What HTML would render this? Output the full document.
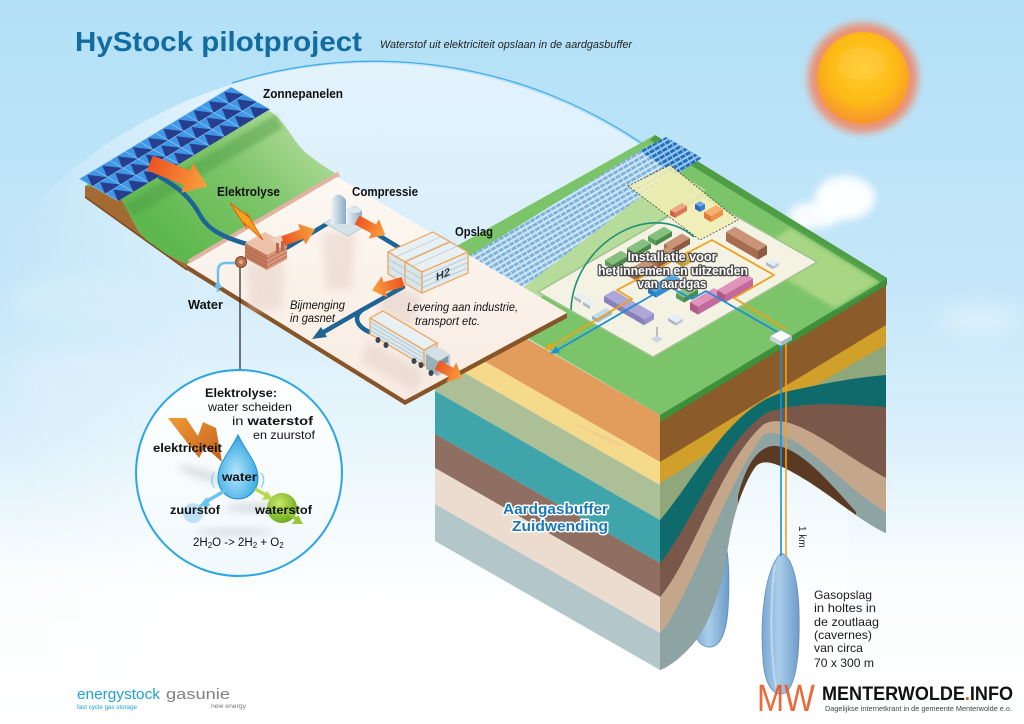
<!DOCTYPE html>
<html><head><meta charset="utf-8"><style>
html,body{margin:0;padding:0;background:#fff;width:1024px;height:724px;overflow:hidden;}
svg{display:block;}
text{font-family:"Liberation Sans",sans-serif;}
</style></head><body>
<svg width="1024" height="724" viewBox="0 0 1024 724" xmlns="http://www.w3.org/2000/svg">
<defs>
 <linearGradient id="sky" x1="0" y1="0" x2="0" y2="724" gradientUnits="userSpaceOnUse">
  <stop offset="0" stop-color="#b2e0f7"/>
  <stop offset="0.4" stop-color="#c5e7f9"/>
  <stop offset="0.62" stop-color="#dcf0fb"/>
  <stop offset="0.79" stop-color="#fafdfe"/>
  <stop offset="1" stop-color="#ffffff"/>
 </linearGradient>
 <linearGradient id="bub" x1="0" y1="61" x2="0" y2="600" gradientUnits="userSpaceOnUse">
  <stop offset="0" stop-color="#e3f3fc"/>
  <stop offset="0.45" stop-color="#d7eefa"/>
  <stop offset="0.75" stop-color="#ecf7fc"/>
  <stop offset="1" stop-color="#ffffff"/>
 </linearGradient>
 <linearGradient id="bubMaskG" x1="0" y1="0" x2="200" y2="0" gradientUnits="userSpaceOnUse">
  <stop offset="0" stop-color="#000"/>
  <stop offset="1" stop-color="#fff"/>
 </linearGradient>
 <mask id="bubMask" maskUnits="userSpaceOnUse" x="0" y="0" width="1024" height="724">
  <rect x="0" y="0" width="1024" height="724" fill="url(#bubMaskG)"/>
 </mask>
 <radialGradient id="sunG" cx="0.5" cy="0.4" r="0.6">
  <stop offset="0" stop-color="#ffcd2e"/>
  <stop offset="0.6" stop-color="#fdbb16"/>
  <stop offset="1" stop-color="#f7952e"/>
 </radialGradient>
 <filter id="b2" x="-50%" y="-50%" width="200%" height="200%"><feGaussianBlur stdDeviation="2"/></filter>
 <filter id="b4" x="-50%" y="-50%" width="200%" height="200%"><feGaussianBlur stdDeviation="4"/></filter>
 <filter id="b8" x="-50%" y="-50%" width="200%" height="200%"><feGaussianBlur stdDeviation="8"/></filter>
 <linearGradient id="hill" x1="170" y1="240" x2="285" y2="120" gradientUnits="userSpaceOnUse">
  <stop offset="0" stop-color="#5fb84f"/>
  <stop offset="0.55" stop-color="#7cc568"/>
  <stop offset="1" stop-color="#a9d892"/>
 </linearGradient>
 <linearGradient id="plateG" x1="0" y1="177" x2="0" y2="400" gradientUnits="userSpaceOnUse">
  <stop offset="0" stop-color="#fdf8f2"/>
  <stop offset="1" stop-color="#f8ebe1"/>
 </linearGradient>
 <linearGradient id="og" x1="0" y1="0" x2="1" y2="0">
  <stop offset="0" stop-color="#ec5424"/>
  <stop offset="1" stop-color="#f9a23c"/>
 </linearGradient>
 <linearGradient id="boltG" x1="0" y1="0" x2="1" y2="1">
  <stop offset="0" stop-color="#f29a36"/>
  <stop offset="1" stop-color="#c0601e"/>
 </linearGradient>
 <radialGradient id="dropG" cx="0.45" cy="0.6" r="0.6">
  <stop offset="0" stop-color="#b8e6fb"/>
  <stop offset="1" stop-color="#2ea6e2"/>
 </radialGradient>
 <radialGradient id="ballG" cx="0.4" cy="0.35" r="0.65">
  <stop offset="0" stop-color="#c8e86a"/>
  <stop offset="1" stop-color="#6fac1e"/>
 </radialGradient>
 <linearGradient id="circG" x1="0" y1="370" x2="0" y2="577" gradientUnits="userSpaceOnUse">
  <stop offset="0" stop-color="#ffffff"/>
  <stop offset="1" stop-color="#f1f9fd"/>
 </linearGradient>
 <linearGradient id="cavG" x1="0" y1="0" x2="1" y2="0">
  <stop offset="0" stop-color="#7aa8d2"/>
  <stop offset="0.45" stop-color="#a9cdea"/>
  <stop offset="1" stop-color="#6e9cc8"/>
 </linearGradient>
 <linearGradient id="cylG" x1="0" y1="0" x2="1" y2="0">
  <stop offset="0" stop-color="#eef4f8"/>
  <stop offset="1" stop-color="#8eacc2"/>
 </linearGradient>
 <pattern id="pan" patternUnits="userSpaceOnUse" width="1" height="1">
  <rect width="1" height="1" fill="#3f98e6"/>
  <path d="M0,1 L0.5,0.05 L1,1 Z" fill="#273d8e"/>
  <path d="M0,0 H1 M0,0 V1" stroke="#a6d6f7" stroke-width="0.07"/>
 </pattern>
 <pattern id="sf" patternUnits="userSpaceOnUse" width="6" height="5" patternTransform="rotate(-30)">
  <rect width="6" height="5" fill="#d3e8f4"/>
  <rect x="0.5" y="0.5" width="5" height="3" fill="#7db3df"/>
 </pattern>
 <pattern id="sfd" patternUnits="userSpaceOnUse" width="6" height="5" patternTransform="rotate(-30)">
  <rect width="6" height="5" fill="#9cc8ea"/>
  <rect x="0.5" y="0.5" width="5" height="3" fill="#1f6fc2"/>
 </pattern>
 <clipPath id="rf"><path d="M660,415 L886,280 L886,533 C862,522 832,496 806,480 C786,468 766,456 756,466 C744,482 734,512 729,540 C723,580 713,620 692,645 C682,656 672,665 660,670 Z"/></clipPath>
</defs>

<!-- background -->
<rect width="1024" height="724" fill="url(#sky)"/>
<g filter="url(#b8)" opacity="0.8">
 <ellipse cx="95" cy="300" rx="85" ry="22" fill="#d6eefb"/>
 <ellipse cx="80" cy="380" rx="70" ry="30" fill="#d9effb"/>
 <ellipse cx="980" cy="320" rx="40" ry="16" fill="#ddf1fb"/>
</g>
<!-- bubble -->
<path d="M0,243 A476,476 0 0 1 813,720 L813,724 L0,724 Z" fill="url(#bub)" mask="url(#bubMask)"/>
<path d="M232,83 A476,476 0 0 1 647,147" fill="none" stroke="#46ace6" stroke-width="1.3"/>

<!-- sun -->
<circle cx="863" cy="78" r="55" fill="#f4845e" filter="url(#b4)" opacity="0.85"/>
<circle cx="863" cy="78" r="46" fill="url(#sunG)"/>
<ellipse cx="862" cy="64" rx="24" ry="16" fill="#ffe08a" opacity="0.15"/>

<!-- cloud behind block -->
<g filter="url(#b4)">
 <ellipse cx="845" cy="198" rx="30" ry="22" fill="#ffffff" opacity="0.95"/>
 <ellipse cx="815" cy="215" rx="26" ry="13" fill="#ffffff" opacity="0.9"/>
 <ellipse cx="790" cy="232" rx="18" ry="10" fill="#ffffff" opacity="0.8"/>
</g>

<!-- ===== right block: left face ===== -->
<polygon points="435,286 660,415 660,462 435,333" fill="#e29c5c"/>
<polygon points="435,333 660,462 660,485 435,356" fill="#f5da8c"/>
<polygon points="435,356 660,485 660,520 435,391" fill="#adbf97"/>
<polygon points="435,391 660,520 660,563 435,434" fill="#3fa5ab"/>
<polygon points="435,434 660,563 660,597 435,468" fill="#8f6f61"/>
<polygon points="435,468 660,597 660,633 435,504" fill="#ebdccf"/>
<polygon points="435,504 660,633 660,670 435,541" fill="#b3c7cb"/>
<polygon points="560,416 628,446 615,446" fill="#f3cf8e" opacity="0.7"/>

<!-- caverns -->
<path d="M722,530 C729,545 730,580 728,610 C726,636 719,648 708,647 C696,645 690,630 692,605 C695,570 710,540 722,530 Z" fill="url(#cavG)" stroke="#5e8ebc" stroke-width="0.8"/>

<!-- right face -->
<g clip-path="url(#rf)">
 <rect x="650" y="270" width="240" height="420" fill="#8b5b29"/>
 <path d="M660,462 L886,325 L886,690 L660,690 Z" fill="#d1a02a"/>
 <path d="M660,483 C720,447 800,392 886,345 L886,690 L660,690 Z" fill="#8fa77a"/>
 <path d="M660,520 C695,480 730,405 785,392 C830,382 860,377 886,375 L886,690 L660,690 Z" fill="#0e6a6b"/>
 <path d="M660,563 C690,528 722,440 768,412 C805,400 850,405 886,407 L886,690 L660,690 Z" fill="#7a5849"/>
 <path d="M660,597 C692,560 722,460 764,424 C792,410 835,450 886,478 L886,690 L660,690 Z" fill="#c4a78b"/>
 <path d="M660,633 C690,600 722,490 764,434 C795,425 840,485 886,512 L886,690 L660,690 Z" fill="#8ea4a2"/>
 <path d="M738,496 C746,464 758,448 772,446 C796,444 826,478 856,512 L856,560 L738,560 Z" fill="#5a3a22"/>
</g>
<path d="M781,553 C792,556 798,580 799,610 C800,650 797,685 785,693 C775,697 765,688 763,660 C760,620 764,570 781,553 Z" fill="url(#cavG)" stroke="#5e8ebc" stroke-width="0.8"/>
<path d="M775,565 C770,600 770,650 776,688" stroke="#c6def2" stroke-width="2" fill="none" opacity="0.8"/>

<!-- block top -->
<polygon points="412,271 655,135 887,278 660,415" fill="#7cc46a"/>
<polygon points="660,415 887,278 887,285 660,422" fill="#3f8f3a"/>
<polygon points="655,135 887,278 880,282 650,140" fill="#4f9e46"/>
<polygon points="790,228 878,282 835,308 750,258" fill="#a9d683" filter="url(#b2)"/>
<polygon points="505,286 670,168 706,190 540,298" fill="#b6db9a"/>
<!-- solar field -->
<polygon points="460,262 648,146 680,166 520,290" fill="url(#sf)"/>
<polygon points="640,151 666,137 702,158 676,175" fill="url(#sfd)"/>
<!-- installation plate -->
<polygon points="538,292 702,197 817,262 653,357" fill="#f4f2e3" stroke="#9fc28f" stroke-width="1.5"/>
<!-- dashed area -->
<polygon points="628,186 670,165 738,220 700,240" fill="#f1efb4" opacity="0.88" stroke="#333" stroke-width="0.8" stroke-dasharray="2,1.5"/>
<!-- buildings in dashed area -->
<g>
 <polygon points="670,210 675,212.9 687,205.9 682,203" fill="#f0a888"/><polygon points="670,210 675,212.9 675,217.9 670,215" fill="#c86848"/><polygon points="675,212.9 687,205.9 687,210.9 675,217.9" fill="#d87858"/>
 <polygon points="695,204 700,206.9 705,204 700,201.1" fill="#6aa8e8"/><polygon points="695,204 700,206.9 700,211.9 695,209" fill="#2a68b8"/><polygon points="700,206.9 705,204 705,209 700,211.9" fill="#3a7ccc"/>
 <polygon points="704,212 711,216.1 723,209.1 716,205" fill="#f8b070"/><polygon points="704,212 711,216.1 711,222.1 704,218" fill="#e07a3a"/><polygon points="711,216.1 723,209.1 723,215.1 711,222.1" fill="#ec9050"/>
</g>
<!-- buildings -->
<g>
 <polygon points="726,232 758,250.6 767,245.4 735,226.8" fill="#c99478"/><polygon points="726,232 758,250.6 758,259.6 726,241" fill="#a86c50"/><polygon points="758,250.6 767,245.4 767,254.4 758,259.6" fill="#8e5a40"/>
 <polygon points="648,236 656,240.6 672,231.4 664,226.7" fill="#86bf80"/><polygon points="648,236 656,240.6 656,245.6 648,241" fill="#5a9a5a"/><polygon points="656,240.6 672,231.4 672,236.4 656,245.6" fill="#4a884c"/>
 <polygon points="627,248 635,252.6 651,243.4 643,238.7" fill="#86bf80"/><polygon points="627,248 635,252.6 635,257.6 627,253" fill="#5a9a5a"/><polygon points="635,252.6 651,243.4 651,248.4 635,257.6" fill="#4a884c"/>
 <polygon points="605,260 613,264.6 629,255.4 621,250.7" fill="#86bf80"/><polygon points="605,260 613,264.6 613,269.6 605,265" fill="#5a9a5a"/><polygon points="613,264.6 629,255.4 629,260.4 613,269.6" fill="#4a884c"/>
 <polygon points="664,244 672,248.6 690,238.2 682,233.6" fill="#c99478"/><polygon points="664,244 672,248.6 672,254.6 664,250" fill="#a86c50"/><polygon points="672,248.6 690,238.2 690,244.2 672,254.6" fill="#8e5a40"/>
 <polygon points="650,257 658,261.6 676,251.2 668,246.6" fill="#c99478"/><polygon points="650,257 658,261.6 658,267.6 650,263" fill="#a86c50"/><polygon points="658,261.6 676,251.2 676,257.2 658,267.6" fill="#8e5a40"/>
 <polygon points="628,270 636,274.6 654,264.2 646,259.6" fill="#c99478"/><polygon points="628,270 636,274.6 636,280.6 628,276" fill="#a86c50"/><polygon points="636,274.6 654,264.2 654,270.2 636,280.6" fill="#8e5a40"/>
 <polygon points="676,258 683,262.1 695,255.1 688,251" fill="#e0c060"/><polygon points="676,258 683,262.1 683,267.1 676,263" fill="#b8963a"/><polygon points="683,262.1 695,255.1 695,260.1 683,267.1" fill="#c8a444"/>
 <polygon points="648,288 656,292.6 680,278.7 672,274.1" fill="#5aa8e4"/><polygon points="648,288 656,292.6 656,297.6 648,293" fill="#2a78b8"/><polygon points="656,292.6 680,278.7 680,283.7 656,297.6" fill="#3a8ccc"/>
 <polygon points="676,293 684,297.6 698,289.5 690,284.9" fill="#86bf80"/><polygon points="676,293 684,297.6 684,302.6 676,298" fill="#5a9a5a"/><polygon points="684,297.6 698,289.5 698,294.5 684,302.6" fill="#4a884c"/>
 <polygon points="604,296 644,319.2 654,313.4 614,290.2" fill="#aea6d6"/><polygon points="604,296 644,319.2 644,325.2 604,302" fill="#8880b8"/><polygon points="644,319.2 654,313.4 654,319.4 644,325.2" fill="#9890c8"/>
 <polygon points="690,302 698,306.6 722,292.7 714,288.1" fill="#e094bc"/><polygon points="690,302 698,306.6 698,314.6 690,310" fill="#b05888"/><polygon points="698,306.6 722,292.7 722,300.7 698,314.6" fill="#c26a9a"/>
 <polygon points="717,290 725,294.6 753,278.4 745,273.8" fill="#e094bc"/><polygon points="717,290 725,294.6 725,302.6 717,298" fill="#b05888"/><polygon points="725,294.6 753,278.4 753,286.4 725,302.6" fill="#c26a9a"/>
 <polygon points="766,262 773,266.1 779,262.6 772,258.5" fill="#e8eef4"/><polygon points="766,262 773,266.1 773,269.1 766,265" fill="#a8b8c8"/><polygon points="773,266.1 779,262.6 779,265.6 773,269.1" fill="#bcc8d6"/>
 <polygon points="668,318 676,322.6 683,318.6 675,314" fill="#e8eef4"/><polygon points="668,318 676,322.6 676,325.6 668,321" fill="#a8b8c8"/><polygon points="676,322.6 683,318.6 683,321.6 676,325.6" fill="#bcc8d6"/>
 <polygon points="574,296 581,300.1 587,296.6 580,292.5" fill="#e8eef4"/><polygon points="574,296 581,300.1 581,303.1 574,299" fill="#a8b8c8"/>
 <polygon points="583,302 590,306.1 596,302.6 589,298.5" fill="#e8eef4"/><polygon points="583,302 590,306.1 590,309.1 583,305" fill="#a8b8c8"/>
 <polygon points="592,316 598,319.5 612,311.4 606,307.9" fill="#c4dcec"/><polygon points="592,316 598,319.5 598,322.5 592,319" fill="#8aaccc"/><polygon points="598,319.5 612,311.4 612,314.4 598,322.5" fill="#9cbcd8"/>
 <line x1="657" y1="327" x2="657" y2="339" stroke="#8898a8" stroke-width="1.2"/>
 <polygon points="651,339 657,342.5 663,339 657,335.5" fill="#c8d4e0"/>
</g>
<!-- green arc & pipes -->
<path d="M571,310 C573,245 650,198 694,237" fill="none" stroke="#1f8f74" stroke-width="1.6"/>
<path d="M548,348 L632,299 L617,290 L712,240 L774,275 L734,298 L786,329" fill="none" stroke="#eda21c" stroke-width="1.8" stroke-linejoin="round"/>
<path d="M554,352 L668,286 L692,299 L706,291 L779,333" fill="none" stroke="#1e8fd6" stroke-width="1.8" stroke-linejoin="round"/>
<polygon points="544,350 554,348.5 550.5,342.5" fill="#eda21c"/>
<polygon points="550,354 560,352.5 556,346.5" fill="#1e8fd6"/>
<line x1="781" y1="340" x2="781" y2="556" stroke="#1e8fd6" stroke-width="1.6"/>
<line x1="786" y1="340" x2="786" y2="556" stroke="#eda21c" stroke-width="1.6"/>
<polygon points="770,336 781,330 792,336 781,342" fill="#ffffff" stroke="#8898b0" stroke-width="0.6"/>
<polygon points="770,336 781,342 781,346 770,340" fill="#c8d4e0"/>
<polygon points="781,342 792,336 792,340 781,346" fill="#a8b8cc"/>

<!-- installation text -->
<g font-weight="bold" font-size="12.5" fill="#ffffff" stroke="#4a4a4a" stroke-width="2.6" paint-order="stroke" stroke-linejoin="round" text-anchor="middle">
 <text x="672" y="261" textLength="89" lengthAdjust="spacingAndGlyphs">Installatie voor</text>
 <text x="673" y="275" textLength="150" lengthAdjust="spacingAndGlyphs">het innemen en uitzenden</text>
 <text x="672" y="288" textLength="69" lengthAdjust="spacingAndGlyphs">van aardgas</text>
</g>

<!-- ===== left scene ===== -->
<!-- hill -->
<path d="M85,186 L232,97 L268,110 C285,120 292,140 305,152 C318,163 330,170 340,176 L187,264 C170,257 152,247 140,233 C132,222 126,205 118,195 C112,189 100,187 85,186 Z" fill="url(#hill)"/>
<path d="M85,186 C100,187 112,189 118,195 C126,205 132,222 140,233 C152,247 170,257 187,264 L187,270 L85,197 Z" fill="#a36a32"/>
<path d="M85,197 L187,270" stroke="#7a4a20" stroke-width="1.5"/>
<!-- panel shadow -->
<polygon points="122,206 276,114 282,128 135,216" fill="#4e9a44" opacity="0.45" filter="url(#b2)"/>
<!-- panels -->
<g transform="matrix(15.2,-9.2,13,7.4,79,179)">
 <rect x="0" y="0" width="10" height="3" fill="url(#pan)"/>
</g>
<!-- pink strip -->
<line x1="189" y1="262" x2="339" y2="174" stroke="#e2b2a2" stroke-width="5"/>
<!-- plate -->
<polygon points="187,265 337,177 567,313 405,400" fill="url(#plateG)"/>
<polygon points="187,265 405,400 567,313 567,318 405,405 187,270" fill="#875527"/>
<!-- shadows on plate -->
<g filter="url(#b4)" opacity="0.55">
 <polygon points="322,232 356,232 352,290 326,290" fill="#e6d2c8"/>
 <polygon points="245,262 285,262 282,310 250,310" fill="#e6d2c8"/>
 <polygon points="385,278 422,298 410,330 378,312" fill="#e2d0c8"/>
 <polygon points="368,340 424,372 416,392 362,362" fill="#e2d0c8"/>
</g>
<!-- cable from panels -->
<path d="M160,177 C180,188 192,200 200,215 C208,230 225,238 247,244" fill="none" stroke="#1e6494" stroke-width="4.5" stroke-linecap="round"/>
<!-- pipes on plate -->
<path d="M283,250 L330,222 M357,222 L403,250 M403,287 L362,310 L322,333" fill="none" stroke="#1e6494" stroke-width="4.5" stroke-linecap="round" stroke-linejoin="round"/>
<path d="M362,310 C352,318 358,328 372,333" fill="none" stroke="#1e6494" stroke-width="4.5" stroke-linecap="round"/>
<polygon points="312,339 327,337 321,327" fill="#1e6494"/>
<!-- water pipe -->
<path d="M218,292 L218,271 Q218,263 226,263 L243,263" fill="none" stroke="#6ac2f0" stroke-width="2.5"/>
<polygon points="214,288 218,280 222,288" fill="#6ac2f0"/>
<!-- pointer line -->
<line x1="240" y1="268" x2="240" y2="372" stroke="#222" stroke-width="1.2"/>
<!-- electrolyser -->
<polygon points="245,243 265,232 287,244 267,255" fill="#ecc2aa"/>
<polygon points="245,243 267,255 267,270 245,258" fill="#c27a5a"/>
<polygon points="267,255 287,244 287,259 267,270" fill="#d8957a"/>
<path d="M245,247 L267,259 M245,251 L267,263 M245,255 L267,267 M267,259 L287,248 M267,263 L287,252 M267,267 L287,256" stroke="#a86048" stroke-width="0.6"/>
<polygon points="270,240 280,235 290,241 280,246" fill="#f0d0bc"/>
<rect x="281" y="241" width="3" height="10" fill="#b86a50"/>
<rect x="276" y="243" width="3" height="10" fill="#b86a50"/>
<circle cx="241" cy="262" r="5.5" fill="#b87050" stroke="#7a4028" stroke-width="1"/>
<circle cx="241" cy="262" r="2" fill="#e0a888"/>
<!-- lightning -->
<path d="M230,203 L250,218 L246,212 L263,240 L243,222 L247,229 Z" fill="#f7a21b" stroke="#e0600e" stroke-width="1"/>
<!-- compressor -->
<polygon points="324,223 345,211 369,224 348,236" fill="#d6e2ea" stroke="#a8bccb" stroke-width="0.6"/>
<path d="M331,200 Q338,189 346,200 L346,224 L331,224 Z" fill="url(#cylG)"/>
<path d="M346,211 Q354,201 362,211 L362,225 L346,225 Z" fill="url(#cylG)"/>
<ellipse cx="354" cy="210" rx="7.5" ry="3" fill="#dde8f0"/>
<!-- storage -->
<polygon points="388,252 433,232 468,252 422,272" fill="#e8f0f3" stroke="#f0a050" stroke-width="1.2"/>
<path d="M396,256.8 L441,236.8 M404,261.6 L449,241.6 M412,266.4 L457,246.4" stroke="#b8cfd8" stroke-width="0.8"/>
<path d="M405,262 L450,242" stroke="#f0a050" stroke-width="1.2"/>
<polygon points="388,252 422,272 422,293 388,274" fill="#d8e5ea" stroke="#f0a050" stroke-width="1.2"/>
<path d="M405,262 L405,284" stroke="#f0a050" stroke-width="1.2"/>
<path d="M388,259 L422,279 M388,266 L422,286" stroke="#b0c6d0" stroke-width="0.8"/>
<polygon points="422,272 468,252 468,273 422,293" fill="#e2ecf0" stroke="#f0a050" stroke-width="1.2"/>
<path d="M422,277.3 L468,257.3 M422,282.5 L468,262.5 M422,287.8 L468,267.8" stroke="#a8c4d0" stroke-width="0.8"/>
<text transform="translate(436,281) skewY(-24)" font-size="11" fill="#1e2f40" font-weight="bold">H2</text>
<!-- truck -->
<polygon points="370,318 383,311 437,343 424,350" fill="#e8f0f3" stroke="#f0a050" stroke-width="1.1"/>
<polygon points="370,318 424,350 424,366 370,334" fill="#dce8ed" stroke="#f0a050" stroke-width="1.1"/>
<path d="M370,322 L424,354 M370,326 L424,358 M370,330 L424,362" stroke="#aec4ce" stroke-width="0.8"/>
<polygon points="424,350 437,343 437,359 424,366" fill="#cfdde3" stroke="#f0a050" stroke-width="1.1"/>
<polygon points="426,354 438,347 450,354 438,361" fill="#d4e0e6"/>
<polygon points="426,354 438,361 438,376 426,369" fill="#9ab0b8"/>
<polygon points="438,361 450,354 450,369 438,376" fill="#b6c8ce"/>
<polygon points="440,361 448,356 448,362 440,367" fill="#7a94a0"/>
<g fill="#3a4650">
 <ellipse cx="378" cy="340" rx="2.5" ry="3"/><ellipse cx="386" cy="345" rx="2.5" ry="3"/>
 <ellipse cx="414" cy="361" rx="2.5" ry="3"/><ellipse cx="421" cy="365" rx="2.5" ry="3"/>
 <ellipse cx="431" cy="373" rx="2.5" ry="3"/>
</g>
<!-- orange arrows -->
<path d="M0,-8 L40,-8 L40,-16 L62,0 L40,16 L40,8 L0,8 Z" transform="translate(150,163) rotate(22)" fill="url(#og)"/>
<path d="M0,-5 L20,-5 L20,-11 L34,0 L20,11 L20,5 L0,5 Z" transform="translate(283,241) rotate(-20)" fill="url(#og)"/>
<path d="M0,-5 L19,-5 L19,-11 L32,0 L19,11 L19,5 L0,5 Z" transform="translate(357,220) rotate(28)" fill="url(#og)"/>
<path d="M0,-5 L19,-5 L19,-11 L32,0 L19,11 L19,5 L0,5 Z" transform="translate(403,282) rotate(165)" fill="url(#og)"/>
<path d="M0,-5 L16,-5 L16,-11 L28,0 L16,11 L16,5 L0,5 Z" transform="translate(437,365) rotate(27)" fill="url(#og)"/>

<!-- left labels -->
<g font-size="12.5" font-weight="bold" fill="#111">
 <text x="263" y="98" textLength="80" lengthAdjust="spacingAndGlyphs">Zonnepanelen</text>
 <text x="217" y="196" textLength="63" lengthAdjust="spacingAndGlyphs">Elektrolyse</text>
 <text x="352" y="196" textLength="66" lengthAdjust="spacingAndGlyphs">Compressie</text>
 <text x="455" y="236" textLength="38" lengthAdjust="spacingAndGlyphs">Opslag</text>
 <text x="188" y="309" textLength="35" lengthAdjust="spacingAndGlyphs">Water</text>
</g>
<g font-size="12" font-style="italic" fill="#111">
 <text x="290" y="309" textLength="55" lengthAdjust="spacingAndGlyphs">Bijmenging</text>
 <text x="290" y="322" textLength="45" lengthAdjust="spacingAndGlyphs">in gasnet</text>
 <text x="407" y="311" textLength="111" lengthAdjust="spacingAndGlyphs">Levering aan industrie,</text>
 <text x="415" y="325" textLength="65" lengthAdjust="spacingAndGlyphs">transport etc.</text>
</g>

<!-- detail circle -->
<circle cx="239" cy="473" r="103" fill="url(#circG)" stroke="#2aa6e2" stroke-width="2"/>
<g filter="url(#b4)" fill="#c8ccd0" opacity="0.6">
 <ellipse cx="205" cy="475" rx="28" ry="5" transform="rotate(18 205 475)"/>
 <ellipse cx="255" cy="508" rx="30" ry="5"/>
 <ellipse cx="235" cy="532" rx="40" ry="4"/>
</g>
<path d="M168,418 L186,418 L198,436 L203,422 L216,428 L222,462 L205,447 L199,458 Z" fill="url(#boltG)"/>
<path d="M238,435 C230,452 218,463 218,478 C218,490 227,499 238,499 C249,499 258,490 258,478 C258,463 246,452 238,435 Z" fill="url(#dropG)" stroke="#1a90d0" stroke-width="1"/>
<text x="210" y="484" font-size="16" fill="#8ad0f4">(</text>
<text x="260" y="484" font-size="16" fill="#8ad0f4">)</text>
<circle cx="193" cy="513" r="10" fill="#bfe0f6"/>
<path d="M226,490 L204,503" stroke="#6ac4f0" stroke-width="3.5"/>
<polygon points="198,507 207,497 210,506" fill="#6ac4f0"/>
<circle cx="282" cy="508" r="15" fill="url(#ballG)"/>
<path d="M255,489 L268,496" stroke="#b8d850" stroke-width="3.5"/>
<polygon points="273,499 262,500 267,491" fill="#b8d850"/>
<path d="M288,513 L298,520" stroke="#98c838" stroke-width="3.5"/>
<polygon points="303,524 292,524 298,515" fill="#98c838"/>
<g font-size="12" fill="#111">
 <text x="205" y="397" font-weight="bold" textLength="72" lengthAdjust="spacingAndGlyphs">Elektrolyse:</text>
 <text x="208" y="411" textLength="84" lengthAdjust="spacingAndGlyphs">water scheiden</text>
 <text x="232" y="425" textLength="81" lengthAdjust="spacingAndGlyphs">in <tspan font-weight="bold">waterstof</tspan></text>
 <text x="253" y="439" textLength="62" lengthAdjust="spacingAndGlyphs">en zuurstof</text>
 <text x="153" y="452" font-weight="bold" font-size="11.5" textLength="69" lengthAdjust="spacingAndGlyphs">elektriciteit</text>
 <text x="222" y="481" font-weight="bold" textLength="35" lengthAdjust="spacingAndGlyphs">water</text>
 <text x="170" y="514" font-weight="bold" textLength="50" lengthAdjust="spacingAndGlyphs">zuurstof</text>
 <text x="255" y="514" font-weight="bold" textLength="57" lengthAdjust="spacingAndGlyphs">waterstof</text>
 <text x="193" y="546" font-size="11.5">2H<tspan font-size="8" dy="2">2</tspan><tspan dy="-2">O  -&gt; 2H</tspan><tspan font-size="8" dy="2">2</tspan><tspan dy="-2"> + O</tspan><tspan font-size="8" dy="2">2</tspan></text>
</g>

<!-- title -->
<text x="75" y="51" font-size="28" font-weight="bold" fill="#136ca0" textLength="287" lengthAdjust="spacingAndGlyphs">HyStock pilotproject</text>
<text x="380" y="48" font-size="11" font-style="italic" fill="#222" textLength="252" lengthAdjust="spacingAndGlyphs">Waterstof uit elektriciteit opslaan in de aardgasbuffer</text>

<!-- Aardgasbuffer label -->
<g font-size="15" font-weight="bold" fill="#1a78b8" stroke="#ffffff" stroke-width="3" paint-order="stroke" stroke-linejoin="round">
 <text x="503" y="514" textLength="105" lengthAdjust="spacingAndGlyphs">Aardgasbuffer</text>
 <text x="512" y="531" textLength="96" lengthAdjust="spacingAndGlyphs">Zuidwending</text>
</g>

<!-- 1 km -->
<text transform="translate(799,526) rotate(90)" font-size="10" fill="#222">1 km</text>

<!-- gasopslag text -->
<g font-size="12" fill="#1a1a1a">
 <text x="814" y="599" textLength="58" lengthAdjust="spacingAndGlyphs">Gasopslag</text>
 <text x="814" y="612" textLength="62" lengthAdjust="spacingAndGlyphs">in holtes in</text>
 <text x="814" y="626" textLength="65" lengthAdjust="spacingAndGlyphs">de zoutlaag</text>
 <text x="814" y="639" textLength="58" lengthAdjust="spacingAndGlyphs">(cavernes)</text>
 <text x="814" y="652" textLength="49" lengthAdjust="spacingAndGlyphs">van circa</text>
 <text x="814" y="667" textLength="60" lengthAdjust="spacingAndGlyphs">70 x 300 m</text>
</g>

<!-- logos -->
<text x="757" y="711" font-family="Liberation Serif, serif" font-size="38" fill="#e85a26" textLength="58" lengthAdjust="spacingAndGlyphs" opacity="0.9">MW</text>
<text x="822" y="700" font-size="19" font-weight="bold" fill="#111" textLength="191" lengthAdjust="spacingAndGlyphs">MENTERWOLDE<tspan fill="#e8501a">.</tspan>INFO</text>
<text x="825" y="711" font-family="Liberation Serif, serif" font-size="7.5" fill="#444" textLength="187" lengthAdjust="spacingAndGlyphs">Dagelijkse internetkrant in de gemeente Menterwolde e.o.</text>

<text x="77" y="699" font-size="14.5" fill="#1fa0dc" textLength="83" lengthAdjust="spacingAndGlyphs">energystock</text>
<text x="77" y="709" font-size="6.5" fill="#1fa0dc" textLength="60" lengthAdjust="spacingAndGlyphs">fast cycle gas storage</text>
<text x="166" y="699" font-size="15" fill="#808080" textLength="64" lengthAdjust="spacingAndGlyphs">gasunie</text>
<text x="211" y="708" font-size="6.5" fill="#777" textLength="35" lengthAdjust="spacingAndGlyphs">new energy</text>
</svg>
</body></html>
